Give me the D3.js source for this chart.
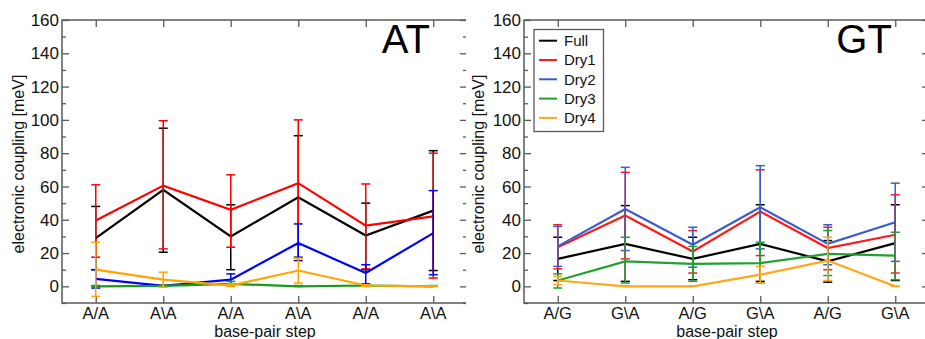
<!DOCTYPE html>
<html>
<head>
<meta charset="utf-8">
<script src="https://cdn.jsdelivr.net/npm/d3@7"></script>
<style>
  html, body { margin: 0; padding: 0; background: #fff; }
  svg { display: block; font-family: "Liberation Sans", Arial, sans-serif; }
</style>
</head>
<body>
<svg id="chart" width="925" height="339"></svg>
<script>
// ---- data ----
const seriesNames = ["Full", "Dry1", "Dry2", "Dry3", "Dry4"];
const atCategories = ["A/A", "A\\A", "A/A", "A\\A", "A/A", "A\\A"];
const gtCategories = ["A/G", "G\\A", "A/G", "G\\A", "A/G", "G\\A"];
const yTicks = [0, 20, 40, 60, 80, 100, 120, 140, 160];

// AT panel: mean, upper and lower error limits
const atFull   = [29, 58, 30, 53.5, 30.5, 45.5];
const atFullHi = [48, 95, 49, 90.5, 50, 81.5];
const atFullLo = [10, 20.5, 10, 17.5, 10, 9.5];
const atDry1   = [39.5, 60.5, 46, 62, 36.5, 42];
const atDry1Hi = [61, 99.5, 67, 100, 61.5, 80];
const atDry1Lo = [17.5, 22.5, 23.5, 25, 10.5, 5];
const atDry2   = [4.5, 0.3, 4, 26, 8, 32];
const atDry2Hi = [10, 0.5, 7.5, 37.5, 13, 57.5];
const atDry2Lo = [-1, 0, 1, 15.5, 1.5, 7];
const atDry3   = [0, 0.3, 1.5, 0, 0.5, 0];
const atDry3Hi = [0.5, 0.8, 3, 0.5, 1, 0.5];
const atDry3Lo = [0, 0, 0.5, 0, 0, 0];
const atDry4   = [10, 4, 0.5, 9.5, 0.5, 0];
const atDry4Hi = [26.5, 8.5, 1.5, 17, 1, 0.3];
const atDry4Lo = [-6, -0.5, 0, 2, 0, 0];

// GT panel
const gtFull   = [16.5, 25.5, 16.5, 25.5, 15, 26];
const gtFullHi = [29.5, 48.5, 29.5, 49, 27.5, 49];
const gtFullLo = [3.5, 3, 4, 3, 2.5, 3.5];
const gtDry1   = [23.5, 42.5, 21, 45, 23, 31];
const gtDry1Hi = [37, 68.5, 33.5, 70, 35.5, 55];
const gtDry1Lo = [10.5, 16.5, 8, 18.5, 10, 8];
const gtDry2   = [24, 46.5, 25, 47.5, 25.5, 38.5];
const gtDry2Hi = [36, 71.5, 35.5, 72.5, 37, 62];
const gtDry2Lo = [12, 21.5, 11.5, 22.5, 13, 15];
const gtDry3   = [3.5, 15, 13.5, 14, 19.5, 18.5];
const gtDry3Hi = [7.5, 29.5, 24, 26.5, 33.5, 32.5];
const gtDry3Lo = [-1, 2, 3, 2, 6.5, 4];
const gtDry4   = [3.5, 0, 0, 7, 15.5, 0];
const gtDry4Hi = [6, 0.3, 0.3, 12, 29.5, 0.3];
const gtDry4Lo = [1, 0, 0, 2, 3.5, 0];

// ---- drawing ----
const svg = d3.select("#chart");
const frameColor = "#5a5a5a";

const panels = [
  {
    title: "AT", cats: atCategories, left: 62, right: 467, clipRight: 466,
    colors: ["#000000", "#ff0000", "#0000ff", "#1a9a1a", "#ffa500"],
    series: [[atFull, atFullHi, atFullLo], [atDry1, atDry1Hi, atDry1Lo], [atDry2, atDry2Hi, atDry2Lo],
             [atDry3, atDry3Hi, atDry3Lo], [atDry4, atDry4Hi, atDry4Lo]],
    ylabX: 18, xlabX: 265, legend: false
  },
  {
    title: "GT", cats: gtCategories, left: 524, right: 929, clipRight: 925,
    colors: ["#000000", "#ff1a1a", "#3a5ccc", "#22a030", "#ffa81e"],
    series: [[gtFull, gtFullHi, gtFullLo], [gtDry1, gtDry1Hi, gtDry1Lo], [gtDry2, gtDry2Hi, gtDry2Lo],
             [gtDry3, gtDry3Hi, gtDry3Lo], [gtDry4, gtDry4Hi, gtDry4Lo]],
    ylabX: 478, xlabX: 727, legend: true
  }
];

const plotTop = 20, plotBottom = 303;

panels.forEach((p, pi) => {
  const x = d3.scaleLinear().domain([-0.5, 5.5]).range([p.left, p.right]);
  const y = d3.scaleLinear().domain([-10, 160]).range([plotBottom, plotTop]);

  const clipId = "clip" + pi;
  svg.append("clipPath").attr("id", clipId)
    .append("rect").attr("x", p.left - 70).attr("y", 0)
    .attr("width", p.clipRight - p.left + 70).attr("height", 339);

  const g = svg.append("g").attr("clip-path", `url(#${clipId})`);

  g.append("path")
    .attr("d", `M${p.right},${plotTop}H${p.left}V${plotBottom}H${p.right}`)
    .attr("fill", "none").attr("stroke", frameColor).attr("stroke-width", 1.5);
  g.append("line").attr("x1", p.right).attr("x2", p.right).attr("y1", plotTop).attr("y2", plotBottom)
    .attr("stroke", frameColor).attr("stroke-width", 1.5);

  const minorTicks = d3.range(-10, 161, 10).filter(v => v % 20 !== 0);
  const tickStyle = s => s.call(t => t.select(".domain").remove())
    .selectAll("line").attr("stroke", frameColor).attr("stroke-width", 1.3);

  g.append("g").attr("transform", `translate(${p.left},0)`)
    .call(d3.axisRight(y).tickValues(yTicks).tickSize(7).tickFormat("")).call(tickStyle);
  g.append("g").attr("transform", `translate(${p.left},0)`)
    .call(d3.axisRight(y).tickValues(minorTicks).tickSize(4).tickFormat("")).call(tickStyle);
  g.append("g").attr("transform", `translate(${p.right},0)`)
    .call(d3.axisLeft(y).tickValues(yTicks).tickSize(7).tickFormat("")).call(tickStyle);
  g.append("g").attr("transform", `translate(${p.right},0)`)
    .call(d3.axisLeft(y).tickValues(minorTicks).tickSize(4).tickFormat("")).call(tickStyle);
  const idx = d3.range(p.cats.length);
  g.append("g").attr("transform", `translate(0,${plotTop})`)
    .call(d3.axisBottom(x).tickValues(idx).tickSize(7).tickFormat("")).call(tickStyle);
  g.append("g").attr("transform", `translate(0,${plotBottom})`)
    .call(d3.axisTop(x).tickValues(idx).tickSize(7).tickFormat("")).call(tickStyle);

  // y tick labels
  svg.append("g").selectAll("text").data(yTicks).join("text")
    .attr("x", p.left - 3).attr("y", d => y(d)).attr("dy", "0.36em")
    .attr("text-anchor", "end").attr("font-size", 17).attr("fill", "#111")
    .text(d => d);

  // x tick labels
  svg.append("g").selectAll("text").data(p.cats).join("text")
    .attr("x", (d, i) => x(i)).attr("y", 318.5)
    .attr("text-anchor", "middle").attr("font-size", 16.5).attr("fill", "#111")
    .text(d => d);

  // axis titles
  svg.append("text").attr("x", p.xlabX).attr("y", 336.5)
    .attr("text-anchor", "middle").attr("font-size", 16).attr("fill", "#111")
    .text("base-pair step");
  svg.append("text")
    .attr("transform", `translate(${p.ylabX},164) rotate(-90)`)
    .attr("dy", "0.35em")
    .attr("text-anchor", "middle").attr("font-size", 16).attr("fill", "#111")
    .text("electronic coupling [meV]");

  // panel title
  svg.append("text").attr("x", x(4.95)).attr("y", 53)
    .attr("text-anchor", "end").attr("font-size", 40).attr("fill", "#000")
    .text(p.title);

  // series
  const line = d3.line().x((d, i) => x(i)).y(d => y(d));
  p.series.forEach((s, si) => {
    const [vals, hi, lo] = s;
    const col = p.colors[si];
    const sg = g.append("g");
    vals.forEach((v, i) => {
      sg.append("line").attr("x1", x(i)).attr("x2", x(i)).attr("y1", y(hi[i])).attr("y2", y(lo[i]))
        .attr("stroke", col).attr("stroke-width", 1.5);
      [hi[i], lo[i]].forEach(e => {
        sg.append("line").attr("x1", x(i) - 4.5).attr("x2", x(i) + 4.5).attr("y1", y(e)).attr("y2", y(e))
          .attr("stroke", col).attr("stroke-width", 1.5);
      });
    });
    sg.append("path").datum(vals).attr("d", line)
      .attr("fill", "none").attr("stroke", col).attr("stroke-width", 2.2)
      .attr("stroke-linejoin", "miter");
  });

  // legend
  if (p.legend) {
    const lg = svg.append("g");
    lg.append("rect").attr("x", 534).attr("y", 29.5).attr("width", 69.5).attr("height", 102)
      .attr("fill", "#fff").attr("stroke", frameColor).attr("stroke-width", 1.3);
    seriesNames.forEach((n, i) => {
      const yy = 40.7 + i * 19.3;
      lg.append("line").attr("x1", 539).attr("x2", 557).attr("y1", yy).attr("y2", yy)
        .attr("stroke", p.colors[i]).attr("stroke-width", 2);
      lg.append("text").attr("x", 564).attr("y", yy).attr("dy", "0.36em")
        .attr("font-size", 15).attr("fill", "#111").text(n);
    });
  }
});
</script>
</body>
</html>
